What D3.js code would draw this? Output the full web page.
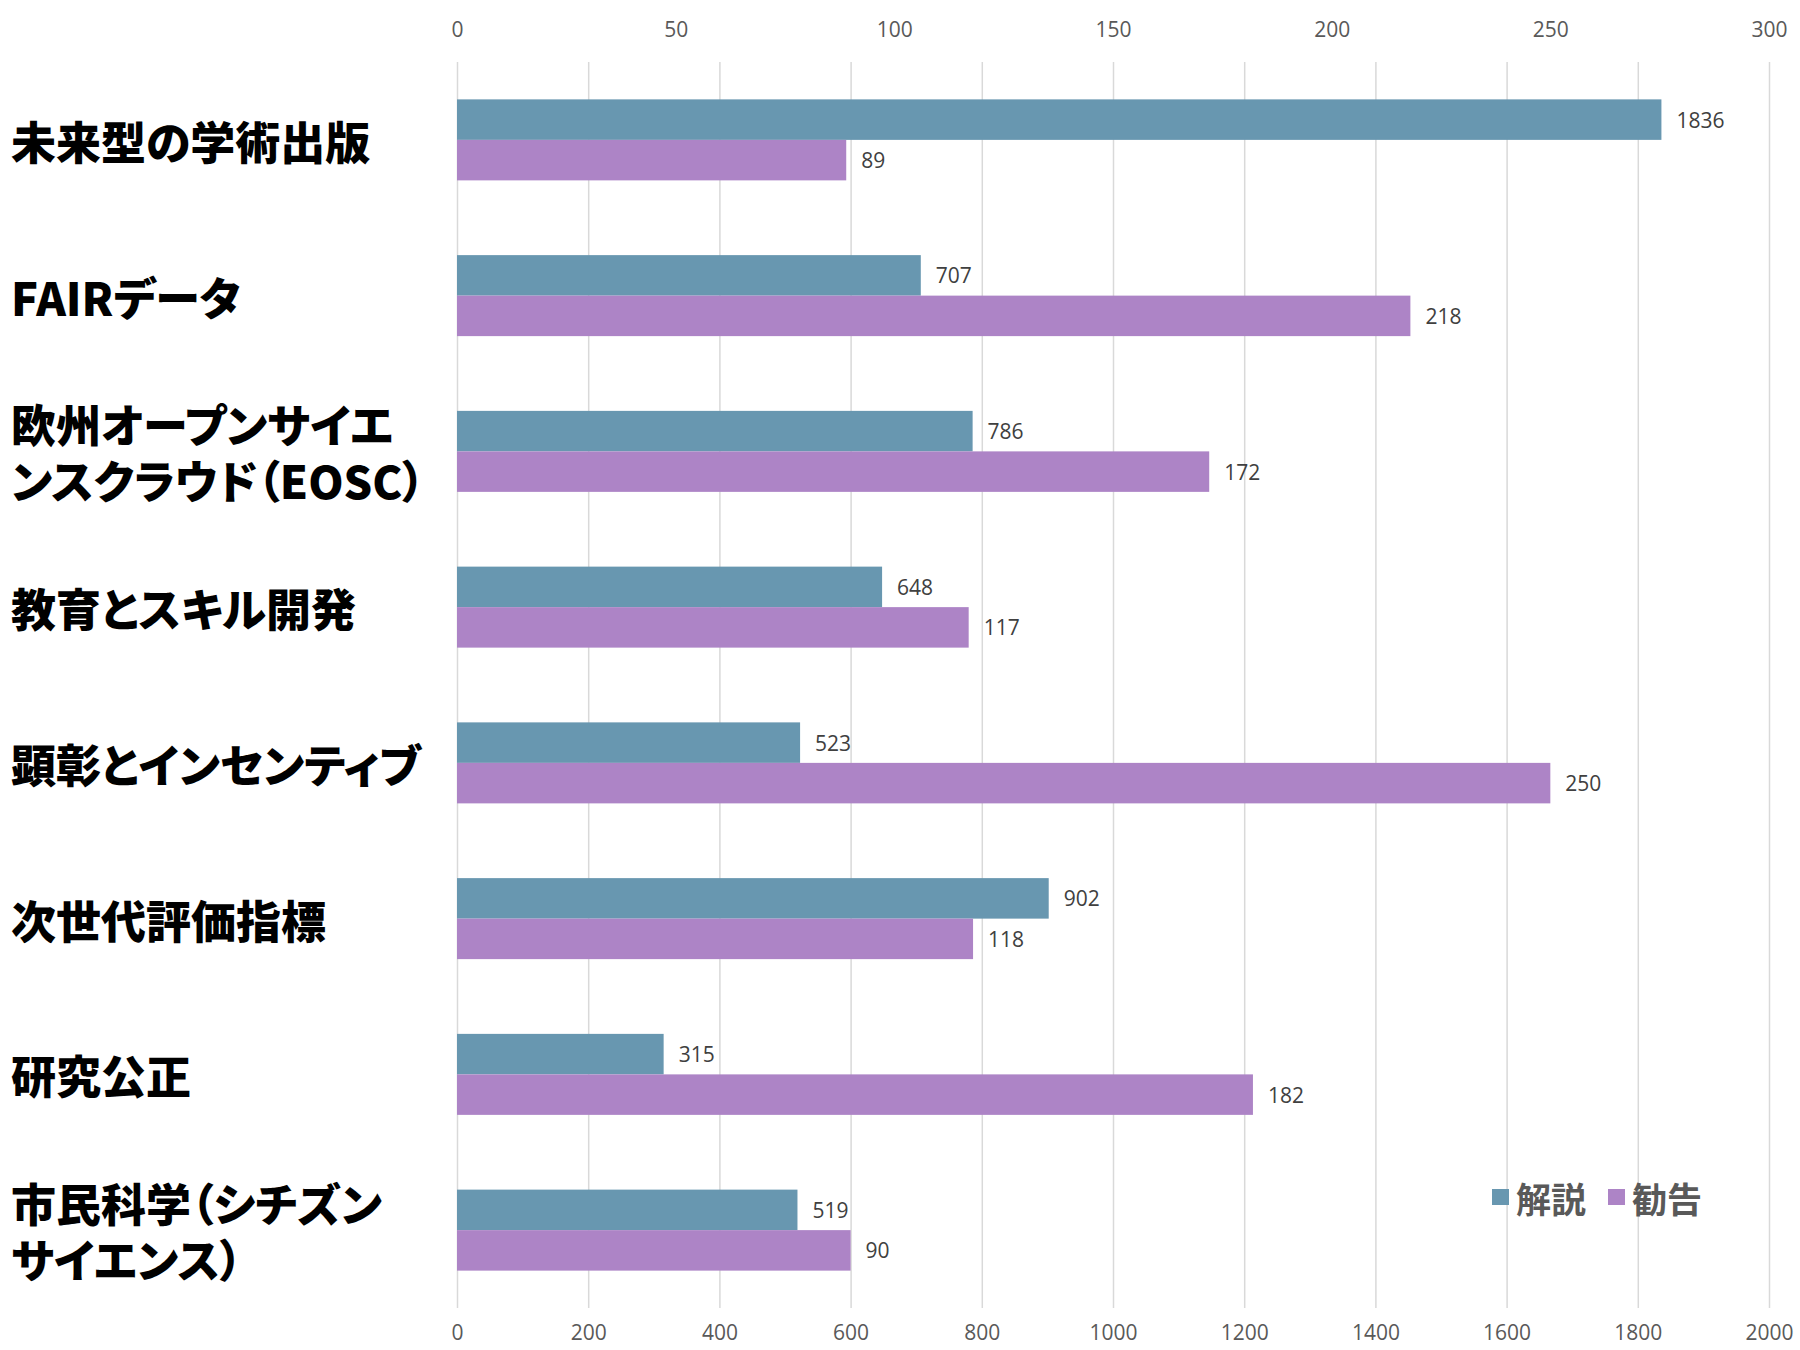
<!DOCTYPE html>
<html>
<head>
<meta charset="utf-8">
<script src="https://cdn.jsdelivr.net/npm/d3@7"></script>
<style>
  body { margin: 0; background: #fff; }
  .tick text { font-family: "Open Sans", sans-serif; font-size: 21px; fill: #595959; }
  .cat { font-feature-settings: "palt"; }
</style>
</head>
<body>
<div id="chart"></div>
<script>
// categories (label lines), and the two series
const categories = [
  ["未来型の学術出版"],
  ["FAIRデータ"],
  ["欧州オープンサイエ", "ンスクラウド（EOSC）"],
  ["教育とスキル開発"],
  ["顕彰とインセンティブ"],
  ["次世代評価指標"],
  ["研究公正"],
  ["市民科学（シチズン", "サイエンス）"]
];
const kaisetsu = [1836, 707, 786, 648, 523, 902, 315, 519];   // bottom axis
const kankoku = [89, 218, 172, 117, 250, 118, 182, 90];        // top axis
const bottomTicks = [0, 200, 400, 600, 800, 1000, 1200, 1400, 1600, 1800, 2000];
const topTicks = [0, 50, 100, 150, 200, 250, 300];
const seriesNames = ["解説", "勧告"];

const width = 1800, height = 1350;
const margin = { top: 62, right: 31, bottom: 42, left: 457 };
const blue = "#6897b0", purple = "#ad84c6";

const svg = d3.select("#chart").append("svg")
  .attr("width", width)
  .attr("height", height);

const xb = d3.scaleLinear().domain([0, 2000]).range([margin.left, width - margin.right]);
const xt = d3.scaleLinear().domain([0, 300]).range([margin.left, width - margin.right]);

const y = d3.scaleBand()
  .domain(d3.range(categories.length))
  .range([margin.top, height - margin.bottom]);
const barH = 40.5;

// gridlines
svg.append("g")
  .attr("transform", `translate(0,${height - margin.bottom})`)
  .call(d3.axisBottom(xb).tickValues(bottomTicks).tickSize(-(height - margin.top - margin.bottom)).tickFormat(""))
  .call(g => g.select(".domain").remove())
  .call(g => g.selectAll("line").attr("stroke", "#d9d9d9").attr("stroke-width", 1.5));

// bottom axis labels
svg.append("g")
  .attr("transform", `translate(0,1333)`)
  .call(d3.axisBottom(xb).tickValues(bottomTicks).tickSize(0).tickPadding(0).tickFormat(d3.format("d")))
  .call(g => g.select(".domain").remove())
  .call(g => g.selectAll("text").attr("dy", "0.32em").attr("y", 0));

// top axis labels
svg.append("g")
  .attr("transform", `translate(0,30)`)
  .call(d3.axisTop(xt).tickValues(topTicks).tickSize(0).tickPadding(0))
  .call(g => g.select(".domain").remove())
  .call(g => g.selectAll("text").attr("dy", "0.32em").attr("y", 0));

const rows = categories.map((c, i) => ({ i, lines: c, a: kaisetsu[i], b: kankoku[i] }));

// 解説 bars
svg.append("g").selectAll("rect")
  .data(rows)
  .join("rect")
  .attr("x", xb(0))
  .attr("y", d => y(d.i) + y.bandwidth() / 2 - barH)
  .attr("width", d => xb(d.a) - xb(0))
  .attr("height", barH)
  .attr("fill", blue);

// 勧告 bars
svg.append("g").selectAll("rect")
  .data(rows)
  .join("rect")
  .attr("x", xt(0))
  .attr("y", d => y(d.i) + y.bandwidth() / 2)
  .attr("width", d => xt(d.b) - xt(0))
  .attr("height", barH)
  .attr("fill", purple);

// value labels
const valFont = g => g.attr("font-family", "'Open Sans', sans-serif")
  .attr("font-size", 21).attr("fill", "#404040").attr("dominant-baseline", "central");

svg.append("g").selectAll("text")
  .data(rows)
  .join("text")
  .attr("x", d => xb(d.a) + 15)
  .attr("y", d => y(d.i) + y.bandwidth() / 2 - barH / 2)
  .text(d => d.a)
  .call(valFont);

svg.append("g").selectAll("text")
  .data(rows)
  .join("text")
  .attr("x", d => xt(d.b) + 15)
  .attr("y", d => y(d.i) + y.bandwidth() / 2 + barH / 2)
  .text(d => d.b)
  .call(valFont);

// category labels
const lab = svg.append("g").selectAll("text")
  .data(rows)
  .join("text")
  .attr("class", "cat")
  .attr("x", 11)
  .attr("font-family", "'Noto Sans CJK JP', sans-serif")
  .attr("font-weight", 900)
  .attr("font-size", 45)
  .attr("fill", "#000")
  .attr("dominant-baseline", "central");

lab.each(function (d) {
  const n = d.lines.length;
  const cy = y(d.i) + y.bandwidth() / 2;
  d3.select(this).selectAll("tspan")
    .data(d.lines)
    .join("tspan")
    .attr("x", 11)
    .attr("y", (t, k) => cy + (k - (n - 1) / 2) * 56)
    .text(t => t);
});

// legend
const legend = svg.append("g").attr("transform", "translate(1492,1197)");
const legendItems = [
  { name: seriesNames[0], color: blue, x: 0 },
  { name: seriesNames[1], color: purple, x: 116 }
];
legendItems.forEach(it => {
  legend.append("rect")
    .attr("x", it.x).attr("y", -8)
    .attr("width", 17).attr("height", 16)
    .attr("fill", it.color);
  legend.append("text")
    .attr("x", it.x + 24).attr("y", 0)
    .attr("font-family", "'Noto Sans CJK JP', sans-serif")
    .attr("font-weight", 700)
    .attr("font-size", 35)
    .attr("fill", "#595959")
    .attr("dominant-baseline", "central")
    .text(it.name);
});
</script>
</body>
</html>
